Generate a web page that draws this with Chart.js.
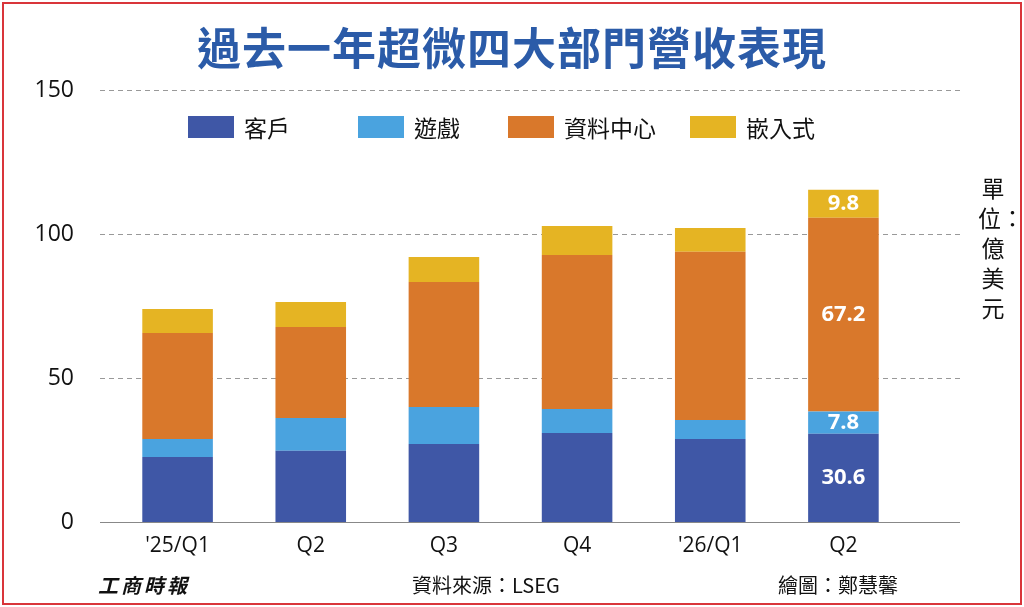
<!DOCTYPE html>
<html>
<head>
<meta charset="utf-8">
<script src="https://cdn.jsdelivr.net/npm/chart.js@4"></script>
<style>
  body { margin: 0; background: #fff; font-family: "Noto Sans CJK TC", "Noto Sans", sans-serif; }
  #wrap { position: relative; width: 1024px; height: 607px; overflow: hidden; }
  #frame { position: absolute; left: 2px; top: 2px; right: 2px; bottom: 2px; border: 2px solid #d9353a; pointer-events: none; }
  #title { position: absolute; left: 0; width: 1024px; top: 14px; text-align: center; font-size: 44px; font-weight: bold; color: #2b5ba8; letter-spacing: 1px; }
  .legend { position: absolute; top: 110px; font-size: 23px; color: #111; display: flex; align-items: center; }
  .legend span.box { display: inline-block; width: 46px; height: 22px; margin-right: 10px; }
  #unit { position: absolute; left: 978px; top: 172px; width: 30px; font-size: 23px; line-height: 30px; text-align: center; color: #111; }
  .foot { position: absolute; top: 570px; font-size: 20px; color: #111; }
</style>
</head>
<body>
<div id="wrap">
  <canvas id="chart" width="1024" height="607"></canvas>
  <div id="title">過去一年超微四大部門營收表現</div>
  <div class="legend" style="left:188px"><span class="box" style="background:#3f57a6"></span>客戶</div>
  <div class="legend" style="left:358px"><span class="box" style="background:#4aa3df"></span>遊戲</div>
  <div class="legend" style="left:508px"><span class="box" style="background:#d9782b"></span>資料中心</div>
  <div class="legend" style="left:690px"><span class="box" style="background:#e5b423"></span>嵌入式</div>
  <div id="unit">單位：億美元</div>
  <div class="foot" style="left:98px;font-weight:bold;font-style:italic;letter-spacing:3px">工商時報</div>
  <div class="foot" style="left:412px">資料來源：LSEG</div>
  <div class="foot" style="left:778px">繪圖：鄭慧馨</div>
  <div id="frame"></div>
</div>
<script>
// Data (億美元)
const categories = ["'25/Q1", "Q2", "Q3", "Q4", "'26/Q1", "Q2"];
const client = [22.6, 24.7, 27.1, 30.9, 28.8, 30.6];
const gaming = [6.2, 11.4, 12.8, 8.3, 6.6, 7.8];
const dataCenter = [36.8, 31.6, 43.4, 53.5, 58.4, 67.2];
const embedded = [8.4, 8.7, 8.7, 10.1, 8.3, 9.8];
const yTicks = [0, 50, 100, 150];

// Dashed gridlines running wider than the bar area
const wideGrid = {
    id: "wideGrid",
    beforeDatasetsDraw(chart) {
        const ctx = chart.ctx;
        const y = chart.scales.y;
        ctx.save();
        ctx.strokeStyle = "#999";
        ctx.lineWidth = 1;
        yTicks.forEach(v => {
            const py = Math.round(y.getPixelForValue(v)) + 0.5;
            ctx.setLineDash(v === 0 ? [] : [5, 4]);
            ctx.strokeStyle = v === 0 ? "#888" : "#999";
            ctx.beginPath();
            ctx.moveTo(100, py);
            ctx.lineTo(960, py);
            ctx.stroke();
        });
        ctx.restore();
    }
};

// Value labels on the last bar only
const lastBarLabels = {
    id: "lastBarLabels",
    afterDatasetsDraw(chart) {
        const ctx = chart.ctx;
        const last = categories.length - 1;
        ctx.save();
        ctx.fillStyle = "#fff";
        ctx.font = "bold 22px 'Open Sans', sans-serif";
        ctx.textAlign = "center";
        ctx.textBaseline = "middle";
        chart.data.datasets.forEach((ds, i) => {
            const bar = chart.getDatasetMeta(i).data[last];
            const mid = (bar.y + bar.base) / 2;
            ctx.fillText(ds.data[last].toFixed(1), bar.x, mid);
        });
        ctx.restore();
    }
};

document.addEventListener("DOMContentLoaded", () => {
    const ctx = document.getElementById("chart");
    const mk = (label, data, color) => ({
        label: label,
        data: data,
        backgroundColor: color,
        barPercentage: 0.53,
        categoryPercentage: 1
    });

    new Chart(ctx, {
        type: "bar",
        data: {
            labels: categories,
            datasets: [
                mk("客戶", client, "#3f57a6"),
                mk("遊戲", gaming, "#4aa3df"),
                mk("資料中心", dataCenter, "#d9782b"),
                mk("嵌入式", embedded, "#e5b423")
            ]
        },
        options: {
            responsive: false,
            animation: false,
            layout: { padding: { top: 90, right: 114, bottom: 50, left: 0 } },
            plugins: {
                legend: { display: false },
                tooltip: { enabled: false }
            },
            scales: {
                x: {
                    stacked: true,
                    grid: { display: false },
                    border: { display: false },
                    ticks: { color: "#111", font: { size: 21, family: "'Open Sans', sans-serif" } },
                    afterFit: s => { s.height = 35; }
                },
                y: {
                    stacked: true,
                    min: 0,
                    max: 150,
                    afterBuildTicks: s => { s.ticks = yTicks.map(v => ({ value: v })); },
                    grid: { display: false },
                    border: { display: false },
                    ticks: { color: "#111", padding: 29, font: { size: 23, family: "'Open Sans', sans-serif" } },
                    afterFit: s => { s.width = 111; }
                }
            }
        },
        plugins: [wideGrid, lastBarLabels]
    });
});
</script>
</body>
</html>
